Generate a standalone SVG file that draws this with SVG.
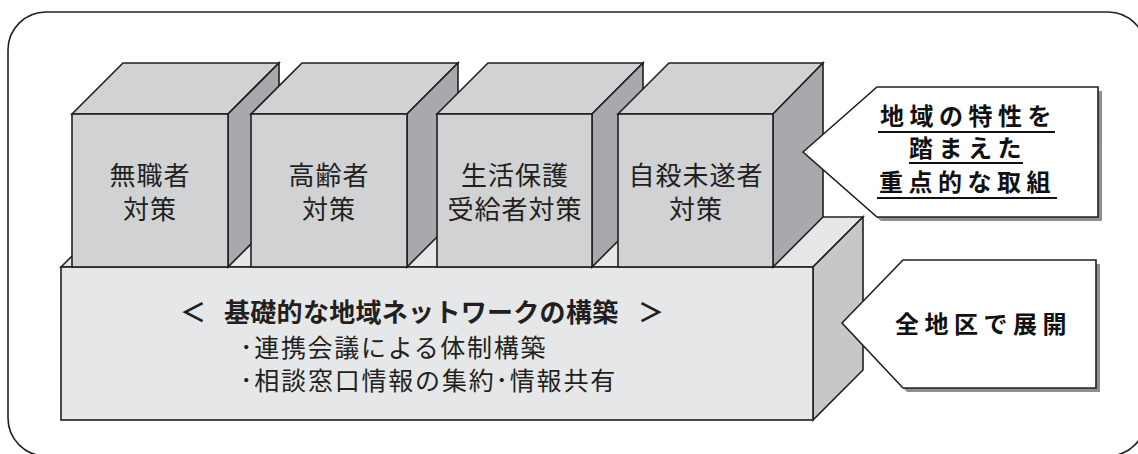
<svg xmlns="http://www.w3.org/2000/svg" width="1138" height="454" viewBox="0 0 1138 454">
<style>
.ln{stroke:#231f20;stroke-width:1.6;stroke-linejoin:miter}
.front{fill:#d1d2d4}
.top{fill:#d1d2d4}
.side{fill:#a7a9ac}
.bfront{fill:#e6e7e8}
.btop{fill:#e6e7e8}
.bside{fill:#c6c7c9}
.bt{font-family:"Noto Sans CJK JP","Noto Sans",sans-serif;font-size:26px;fill:#231f20;letter-spacing:1px;text-anchor:middle}
.nt{font-family:"Noto Sans CJK JP","Noto Sans",sans-serif;font-size:25px;fill:#231f20}
.bold{font-weight:bold;font-size:26px}
.ct{font-family:"Noto Sans CJK JP","Noto Sans",sans-serif;font-size:24px;font-weight:bold;fill:#111111;letter-spacing:5.5px}
.ul{stroke:#111111;stroke-width:2}
.shadow{fill:#8f8f8f}
.call{fill:#ffffff;stroke:#231f20;stroke-width:1.6}
</style>
<rect width="1138" height="454" fill="#ffffff"/>
<g id="frame">
<rect x="8" y="12" width="1138" height="444" rx="38" ry="38" fill="none" stroke="#231f20" stroke-width="1.6"/>
</g>
<g id="base">
<polygon class="btop ln" points="61,267 111,217 863,217 813,267"/>
<polygon class="bside ln" points="813,267 863,217 863,370 813,420"/>
<rect class="bfront ln" x="61" y="267" width="752" height="153"/>
<text class="nt bold"><tspan x="180" y="322">＜</tspan><tspan x="224" y="322" letter-spacing="0.3">基礎的な地域ネットワークの構築</tspan><tspan x="638" y="322">＞</tspan></text>
<text class="nt"><tspan x="240" y="357" letter-spacing="1.7">･連携会議による体制構築</tspan><tspan x="240" y="390" letter-spacing="1.8">･相談窓口情報の集約･情報共有</tspan></text>
</g>
<g id="box1">
<polygon class="top ln" points="72,114 123,63 279,63 228,114"/>
<polygon class="side ln" points="228,114 279,63 279,216 228,267"/>
<rect class="front ln" x="72" y="114" width="156" height="153"/>
<text class="bt"><tspan x="150" y="185">無職者</tspan><tspan x="150" y="219">対策</tspan></text>
</g>
<g id="box2">
<polygon class="top ln" points="251,114 302,63 458,63 407,114"/>
<polygon class="side ln" points="407,114 458,63 458,216 407,267"/>
<rect class="front ln" x="251" y="114" width="156" height="153"/>
<text class="bt"><tspan x="329" y="185">高齢者</tspan><tspan x="329" y="219">対策</tspan></text>
</g>
<g id="box3">
<polygon class="top ln" points="437,114 488,63 643,63 592,114"/>
<polygon class="side ln" points="592,114 643,63 643,216 592,267"/>
<rect class="front ln" x="437" y="114" width="155" height="153"/>
<text class="bt"><tspan x="515" y="185">生活保護</tspan><tspan x="515" y="219">受給者対策</tspan></text>
</g>
<g id="box4">
<polygon class="top ln" points="618,114 669,63 823,63 773,114"/>
<polygon class="side ln" points="773,114 823,63 823,217 773,267"/>
<rect class="front ln" x="618" y="114" width="155" height="153"/>
<text class="bt"><tspan x="696" y="185">自殺未遂者</tspan><tspan x="696" y="219">対策</tspan></text>
</g>
<g id="callout1">
<polygon class="shadow" points="807,156 881,91 1102,91 1102,221 881,221"/>
<polygon class="call" points="803,152 877,87 1098,87 1098,217 877,217"/>
<text class="ct"><tspan x="880" y="125">地域の特性を</tspan><tspan x="909" y="157">踏まえた</tspan><tspan x="879" y="191">重点的な取組</tspan></text>
<line class="ul" x1="878" y1="132" x2="1055" y2="132"/>
<line class="ul" x1="909" y1="163" x2="1023" y2="163"/>
<line class="ul" x1="877" y1="198" x2="1057" y2="198"/>
</g>
<g id="callout2">
<polygon class="shadow" points="846,327 907,264 1100,264 1100,392 907,392"/>
<polygon class="call" points="842,323 903,260 1096,260 1096,388 903,388"/>
<text class="ct" x="895" y="333">全地区で展開</text>
</g>
<g id="connectors"/>
</svg>
